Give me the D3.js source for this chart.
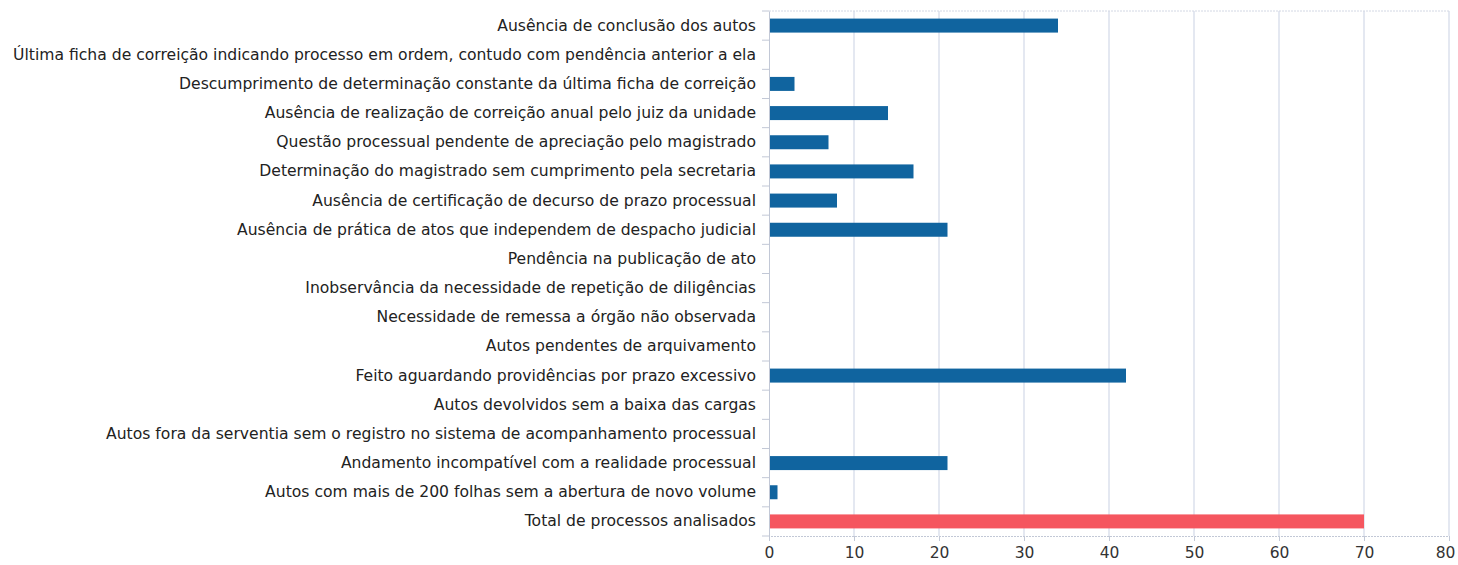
<!DOCTYPE html>
<html>
<head>
<meta charset="utf-8">
<script src="https://cdn.jsdelivr.net/npm/d3@7"></script>
<style>
  body { margin: 0; background: #fff; }
</style>
</head>
<body>
<div id="chart"></div>
<script>
var categories = [
    "Ausência de conclusão dos autos",
    "Última ficha de correição indicando processo em ordem, contudo com pendência anterior a ela",
    "Descumprimento de determinação constante da última ficha de correição",
    "Ausência de realização de correição anual pelo juiz da unidade",
    "Questão processual pendente de apreciação pelo magistrado",
    "Determinação do magistrado sem cumprimento pela secretaria",
    "Ausência de certificação de decurso de prazo processual",
    "Ausência de prática de atos que independem de despacho judicial",
    "Pendência na publicação de ato",
    "Inobservância da necessidade de repetição de diligências",
    "Necessidade de remessa a órgão não observada",
    "Autos pendentes de arquivamento",
    "Feito aguardando providências por prazo excessivo",
    "Autos devolvidos sem a baixa das cargas",
    "Autos fora da serventia sem o registro no sistema de acompanhamento processual",
    "Andamento incompatível com a realidade processual",
    "Autos com mais de 200 folhas sem a abertura de novo volume",
    "Total de processos analisados"
];
var values = [34, 0, 3, 14, 7, 17, 8, 21, 0, 0, 0, 0, 42, 0, 0, 21, 1, 70];
var xTicks = [0, 10, 20, 30, 40, 50, 60, 70, 80];

var data = categories.map(function(c, i) {
    return { category: c, value: values[i], total: i === categories.length - 1 };
});

var width = 1458;
var height = 565;
var margin = { top: 11, right: 9, bottom: 29, left: 769 };
var innerW = width - margin.left - margin.right;
var innerH = height - margin.top - margin.bottom;
var font = "'DejaVu Sans', Verdana, sans-serif";

var svg = d3.select("#chart")
    .append("svg")
    .attr("width", width)
    .attr("height", height);

var g = svg.append("g")
    .attr("transform", "translate(" + margin.left + "," + margin.top + ")");

var x = d3.scaleLinear()
    .domain([0, 80])
    .range([0, innerW]);

var y = d3.scaleBand()
    .domain(categories)
    .range([0, innerH])
    .paddingInner(0.52)
    .paddingOuter(0.26);

var yb = d3.scaleBand()
    .domain(categories)
    .range([0, innerH]);

// grid lines
g.selectAll(".grid")
    .data(xTicks.slice(1))
    .enter().append("line")
    .attr("class", "grid")
    .attr("x1", function(d) { return x(d); })
    .attr("x2", function(d) { return x(d); })
    .attr("y1", 0)
    .attr("y2", innerH)
    .attr("stroke", "#c9d1e3")
    .attr("stroke-width", 1);

// top border
g.append("line")
    .attr("x1", 0).attr("x2", innerW)
    .attr("y1", 0).attr("y2", 0)
    .attr("stroke", "#d3d8e4")
    .attr("stroke-dasharray", "2,1");

// bars
g.selectAll(".bar")
    .data(data)
    .enter().append("rect")
    .attr("class", "bar")
    .attr("x", 0)
    .attr("y", function(d) { return y(d.category); })
    .attr("height", y.bandwidth())
    .attr("width", function(d) { return x(d.value); })
    .attr("fill", function(d) { return d.total ? "#f5565f" : "#10649f"; });

// left axis
var yAxis = g.append("g")
    .call(d3.axisLeft(yb).tickSize(0).tickPadding(13));
yAxis.select(".domain").attr("stroke", "#c2c8d6");
yAxis.selectAll("text")
    .style("font-family", font)
    .style("font-size", "15.6px")
    .attr("fill", "#222");

// boundary ticks on left axis
g.selectAll(".ytick")
    .data(categories.concat(["end"]))
    .enter().append("line")
    .attr("class", "ytick")
    .attr("x1", -7).attr("x2", 0)
    .attr("y1", function(d, i) { return i * yb.step(); })
    .attr("y2", function(d, i) { return i * yb.step(); })
    .attr("stroke", "#c2c8d6");

// bottom axis
var xAxis = g.append("g")
    .attr("transform", "translate(0," + innerH + ")")
    .call(d3.axisBottom(x).tickValues(xTicks).tickSize(5).tickPadding(6));
xAxis.select(".domain").attr("stroke", "#c2c8d6").attr("stroke-dasharray", "2,1");
xAxis.selectAll(".tick line").attr("stroke", "#c2c8d6");
xAxis.selectAll("text")
    .style("font-family", font)
    .style("font-size", "15.5px")
    .attr("fill", "#333")
    .attr("dx", function(d) { return d === 80 ? -4 : 0; });
</script>
</body>
</html>
